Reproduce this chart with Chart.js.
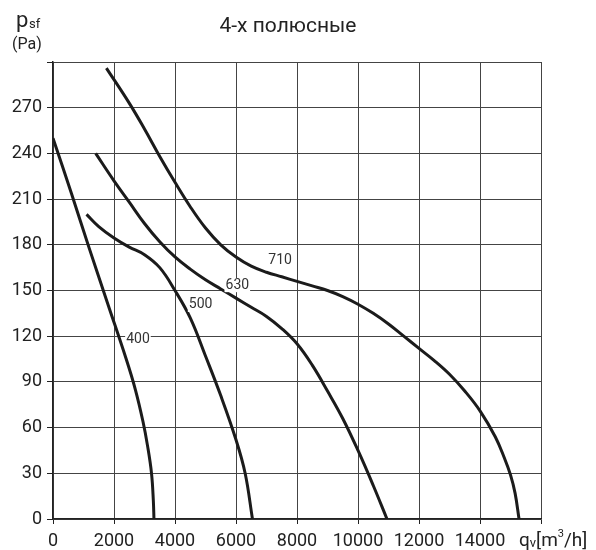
<!DOCTYPE html>
<html>
<head>
<meta charset="utf-8">
<script src="https://cdn.jsdelivr.net/npm/chart.js@4"></script>
<style>
  html, body { margin: 0; padding: 0; background: #fff; }
  #wrap { width: 596px; height: 550px; }
</style>
</head>
<body>
<div id="wrap"><canvas id="fanChart" width="596" height="550"></canvas></div>
<script>
var titleText = '4-х полюсные';
var xTicks = [0, 2000, 4000, 6000, 8000, 10000, 12000, 14000];
var yTicks = [0, 30, 60, 90, 120, 150, 180, 210, 240, 270];

var q400 = [0, 600, 1200, 1800, 2400, 2700, 2950, 3100, 3230, 3290, 3310];
var p400 = [250, 214, 177, 141, 105, 85, 64, 48, 30, 12, 0];

var q500 = [1100, 1500, 2000, 2500, 3000, 3500, 4000, 4500, 5000, 5500, 6000, 6300, 6540];
var p500 = [200, 192, 184.5, 178.5, 173.5, 165, 150, 132, 107, 81, 52, 30, 0];

var q630 = [1400, 2000, 2500, 3000, 3500, 4000, 4500, 5000, 5500, 6000, 6500, 7000, 7500, 8000, 8500, 9000, 9500, 10000, 10500, 10950];
var p630 = [240, 222, 208, 194, 182, 172, 164, 157, 151, 145, 139, 133, 125, 115, 101, 84, 66, 45, 22, 0];

var q710 = [1750, 2500, 3000, 3500, 4000, 4500, 5000, 5500, 6000, 6500, 7000, 7500, 8000, 8500, 9000, 9500, 10000, 10500, 11000, 11500, 12000, 12500, 13000, 13500, 14000, 14500, 14800, 15000, 15150, 15280];
var p710 = [296, 273, 256, 238, 221, 205, 191, 180, 172, 166, 162, 159, 156, 153, 150, 146, 141, 135, 128, 120, 112, 104, 95, 84, 71, 54, 40, 29, 17, 0];

var curveNames = ['400', '500', '630', '710'];
var labelQ = [2785, 4840, 6043, 7445];
var labelP = [118, 140.5, 153.5, 170];

function toPoints(qs, ps) {
  var pts = [];
  for (var i = 0; i < qs.length; i++) {
    pts.push({ x: qs[i], y: ps[i] });
  }
  return pts;
}

var allQ = [q400, q500, q630, q710];
var allP = [p400, p500, p630, p710];

var datasets = [];
for (var k = 0; k < allQ.length; k++) {
  datasets.push({
    label: curveNames[k],
    data: toPoints(allQ[k], allP[k]),
    showLine: true,
    borderColor: '#1b1b1b',
    borderWidth: 3,
    pointRadius: 0,
    tension: 0.4,
    fill: false
  });
}

var FONT = 'Roboto, "DejaVu Sans", sans-serif';

// texts around the plot + curve labels
var extrasPlugin = {
  id: 'extras',
  afterDatasetsDraw: function (chart) {
    var ctx = chart.ctx;
    var xs = chart.scales.x, ys = chart.scales.y;
    ctx.save();
    ctx.font = '14px ' + FONT;
    ctx.textAlign = 'center';
    ctx.textBaseline = 'middle';
    for (var i = 0; i < curveNames.length; i++) {
      var px = xs.getPixelForValue(labelQ[i]);
      var py = ys.getPixelForValue(labelP[i]);
      var w = ctx.measureText(curveNames[i]).width;
      ctx.fillStyle = '#fff';
      ctx.fillRect(px - w / 2 - 1, py - 7, w + 2, 14);
      ctx.fillStyle = '#333';
      ctx.fillText(curveNames[i], px, py);
    }

    ctx.fillStyle = '#222';
    ctx.textAlign = 'center';
    ctx.textBaseline = 'alphabetic';
    ctx.font = '21px ' + FONT;
    ctx.fillText(titleText, 288, 32);

    // y axis name
    ctx.textAlign = 'left';
    ctx.font = '22px ' + FONT;
    ctx.fillText('p', 16, 27);
    ctx.font = '13px ' + FONT;
    ctx.fillText('sf', 29, 28);
    ctx.font = '16px ' + FONT;
    ctx.fillText('(Pa)', 12, 49);

    // x axis name
    ctx.font = '19px ' + FONT;
    var x0 = 519;
    ctx.fillText('q', x0, 546);
    x0 += ctx.measureText('q').width;
    ctx.font = '13px ' + FONT;
    ctx.fillText('v', x0, 547);
    x0 += ctx.measureText('v').width;
    ctx.font = '19px ' + FONT;
    ctx.fillText('[m', x0, 546);
    x0 += ctx.measureText('[m').width;
    ctx.font = '11px ' + FONT;
    ctx.fillText('3', x0, 537);
    x0 += ctx.measureText('3').width;
    ctx.font = '19px ' + FONT;
    ctx.fillText('/h]', x0, 546);
    ctx.restore();
  }
};

var fanConfig = {
  type: 'scatter',
  data: { datasets: datasets },
  options: {
    responsive: false,
    animation: false,
    layout: { padding: { top: 62, right: 55, left: 0, bottom: 0 } },
    plugins: {
      legend: { display: false },
      tooltip: { enabled: false }
    },
    scales: {
      x: {
        type: 'linear',
        min: 0,
        max: 16000,
        afterBuildTicks: function (scale) {
          scale.ticks = xTicks.concat([16000]).map(function (v) { return { value: v }; });
        },
        afterFit: function (scale) { scale.height = 31; },
        ticks: {
          color: '#222',
          font: { family: FONT, size: 18 },
          padding: 7,
          maxRotation: 0,
          autoSkip: false,
          callback: function (v) { return v === 16000 ? '' : String(v); }
        },
        grid: { color: '#444', lineWidth: 1, tickLength: 5, tickColor: '#222' },
        border: { color: '#222', width: 1.5 }
      },
      y: {
        type: 'linear',
        min: 0,
        max: 300,
        afterBuildTicks: function (scale) {
          scale.ticks = yTicks.concat([300]).map(function (v) { return { value: v }; });
        },
        afterFit: function (scale) { scale.width = 53; },
        ticks: {
          color: '#222',
          font: { family: FONT, size: 18 },
          padding: 5,
          autoSkip: false,
          callback: function (v) { return v === 300 ? '' : String(v); }
        },
        grid: { color: '#444', lineWidth: 1, tickLength: 6, tickColor: '#222' },
        border: { color: '#222', width: 1.5 }
      }
    }
  },
  plugins: [extrasPlugin]
};

var fanChart = new Chart(document.getElementById('fanChart'), fanConfig);
</script>
</body>
</html>
